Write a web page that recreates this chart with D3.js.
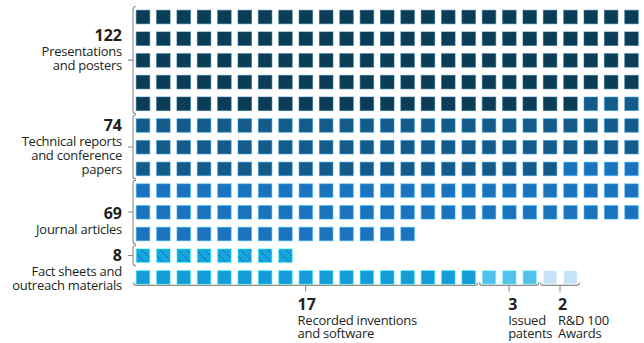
<!DOCTYPE html>
<html lang="en">
<head>
  <meta charset="UTF-8">
  <title>Research outputs waffle</title>
  <style>
    body { margin: 0; background: #fff; }
    svg { display: block; }
    text { font-family: "Open Sans", sans-serif; fill: #231f20; }
  </style>
  <script src="https://d3js.org/d3.v7.min.js"></script>
</head>
<body>
  <svg width="644" height="343"></svg>

  <script>
    // dati
    var categories = ["Presentations and posters", "Technical reports and conference papers",
                      "Journal articles", "Fact sheets and outreach materials",
                      "Recorded inventions and software", "Issued patents", "R&D 100 Awards"];
    var labelLines = [["Presentations", "and posters"],
                      ["Technical reports", "and conference", "papers"],
                      ["Journal articles"],
                      ["Fact sheets and", "outreach materials"],
                      ["Recorded inventions", "and software"],
                      ["Issued", "patents"],
                      ["R&D 100", "Awards"]];
    var labelValues = [122, 74, 69, 8, 17, 3, 2];
    // quadrati contati nella figura (journal mostra 68 quadrati)
    var squareCounts = [122, 74, 68, 8, 17, 3, 2];
    var blockOf = [0, 0, 0, 1, 2, 2, 2];   // ogni blocco inizia una nuova riga
    var colors = ["#0b3d57", "#145b89", "#1b73bd", "#17a3de", "#159bd8", "#52c1eb", "#c4e3f6"];

    var nCols = 25, nRows = 13;
    var size = 13.5;

    var svg = d3.select("svg");

    var defs = svg.append("defs");
    var pat = defs.append("pattern")
      .attr("id", "hatch")
      .attr("patternUnits", "userSpaceOnUse")
      .attr("width", 9).attr("height", 9);
    pat.append("rect").attr("width", 9).attr("height", 9).attr("fill", colors[3]);
    pat.append("path")
      .attr("d", "M-1,-1 L10,10 M-1,8 L1,10 M8,-1 L10,1")
      .attr("stroke", "#1279b0").attr("stroke-width", 1);

    var x = d3.scaleLinear().domain([0, nCols - 1]).range([136, 624.5]);
    var y = d3.scaleLinear().domain([0, nRows - 1]).range([10, 270.4]);

    // costruisce le celle
    var cells = [];
    var spans = [];
    var idx = 0, lastBlock = 0;
    squareCounts.forEach(function(n, k) {
      if (blockOf[k] !== lastBlock) {
        idx = Math.ceil(idx / nCols) * nCols;
        lastBlock = blockOf[k];
      }
      var first = idx;
      for (var i = 0; i < n; i++) {
        cells.push({ cat: k, row: Math.floor(idx / nCols), col: idx % nCols });
        idx++;
      }
      spans.push({ cat: k, first: first, last: idx - 1 });
    });

    svg.selectAll(".sq")
      .data(cells)
      .enter().append("rect")
      .attr("class", "sq")
      .attr("x", function(d) { return x(d.col) + 0.25; })
      .attr("y", function(d) { return y(d.row) + 0.25; })
      .attr("width", size)
      .attr("height", size)
      .attr("fill", function(d) { return d.cat === 3 ? "url(#hatch)" : colors[d.cat]; })
      .attr("stroke", function(d) { return d3.color(colors[d.cat]).brighter(1.3); })
      .attr("stroke-opacity", 0.55)
      .attr("stroke-width", 1);

    var br = svg.append("g")
      .attr("fill", "none")
      .attr("stroke", "#8c8c8c")
      .attr("stroke-width", 1.1);

    function addLabel(k, tx, nb, anchor, lh) {
      svg.append("text")
        .attr("x", tx).attr("y", nb)
        .attr("text-anchor", anchor)
        .style("font-size", "16px").style("font-weight", 700)
        .text(labelValues[k]);
      labelLines[k].forEach(function(line, j) {
        svg.append("text")
          .attr("x", tx).attr("y", nb + 15 + j * lh)
          .attr("text-anchor", anchor)
          .style("font-size", "13px").style("letter-spacing", "-0.25px")
          .text(line);
      });
    }

    // parentesi a sinistra
    var bx = 133, r = 3;
    var numOffset = [-19, -16, 7, 6];
    spans.filter(function(s) { return blockOf[s.cat] < 2; }).forEach(function(s) {
      var r0 = Math.floor(s.first / nCols) + (s.first % nCols === 0 ? 0 : 1);
      var r1 = Math.floor(s.last / nCols);
      var y0 = y(r0) - 3.5, y1 = y(r1) + size + 3.5;
      var ym = (y0 + y1) / 2;
      br.append("path")
        .attr("d", "M" + (bx + r) + "," + y0 + " Q" + bx + "," + y0 + " " + bx + "," + (y0 + r) +
                   " L" + bx + "," + (y1 - r) + " Q" + bx + "," + y1 + " " + (bx + r) + "," + y1 +
                   " M" + bx + "," + ym + " L" + (bx - 5) + "," + ym);
      addLabel(s.cat, 122, ym + numOffset[s.cat], "end", 14);
    });

    // parentesi in basso
    var by = y(nRows - 1) + size + 1.5;
    var textDx = [-8, -1, -2];
    spans.filter(function(s) { return blockOf[s.cat] === 2; }).forEach(function(s, j) {
      var x0 = x(s.first % nCols) - 2.5, x1 = x(s.last % nCols) + size + 2.5;
      var xm = (x0 + x1) / 2;
      br.append("path")
        .attr("d", "M" + x0 + "," + (by - r) + " Q" + x0 + "," + by + " " + (x0 + r) + "," + by +
                   " L" + (x1 - r) + "," + by + " Q" + x1 + "," + by + " " + x1 + "," + (by - r) +
                   " M" + xm + "," + by + " L" + xm + "," + (by + 6));
      addLabel(s.cat, xm + textDx[j], 310, "start", 13);
    });
  </script>
</body>
</html>
